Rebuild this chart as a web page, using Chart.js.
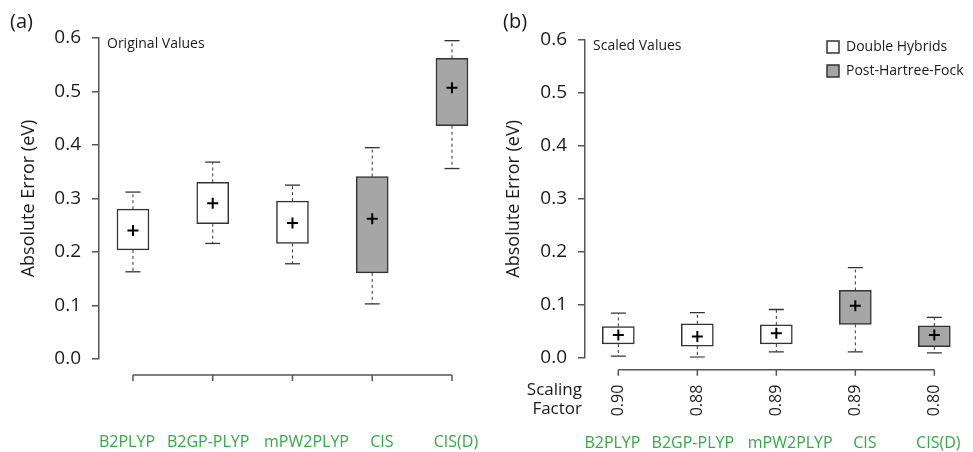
<!DOCTYPE html>
<html lang="en">
<head>
<meta charset="UTF-8">
<title>Absolute Error</title>
<script src="https://cdn.jsdelivr.net/npm/chart.js"></script>
<style>
  body { margin: 0; background: #fff; }
  .panel { position: absolute; top: 0; height: 452px; }
  #left { left: 0; width: 480px; }
  #right { left: 480px; width: 493px; }
</style>
</head>
<body>
<div class="panel" id="left"><canvas id="chartA"></canvas></div>
<div class="panel" id="right"><canvas id="chartB"></canvas></div>
<script>
const methods = ['B2PLYP', 'B2GP-PLYP', 'mPW2PLYP', 'CIS', 'CIS(D)'];
const methodGroup = ['DH', 'DH', 'DH', 'PHF', 'PHF'];
const scalingFactors = ['0.90', '0.88', '0.89', '0.89', '0.80'];
const yTicks = [0, 0.1, 0.2, 0.3, 0.4, 0.5, 0.6];

// (a) original values
const origWhiskerLow  = [0.163, 0.216, 0.178, 0.103, 0.356];
const origBoxLow      = [0.204, 0.253, 0.216, 0.161, 0.436];
const origMean        = [0.240, 0.291, 0.254, 0.262, 0.507];
const origBoxHigh     = [0.280, 0.330, 0.295, 0.341, 0.562];
const origWhiskerHigh = [0.312, 0.368, 0.325, 0.395, 0.595];

// (b) scaled values
const scaledWhiskerLow  = [0.003, 0.001, 0.011, 0.011, 0.009];
const scaledBoxLow      = [0.026, 0.022, 0.026, 0.063, 0.021];
const scaledMean        = [0.043, 0.040, 0.046, 0.098, 0.043];
const scaledBoxHigh     = [0.059, 0.064, 0.062, 0.127, 0.060];
const scaledWhiskerHigh = [0.084, 0.085, 0.091, 0.170, 0.076];

// the green method names sit slightly off their ticks in the original
const labelNudge = [-0.075, -0.057, 0.176, 0.12, 0.05];

const font = "'Open Sans', sans-serif";
const green = '#35a946';
const axisGrey = '#555';
const ink = '#1a1a1a';
const clear = 'rgba(0,0,0,0)';

function boxDatasets(lo, q1, mean, q3, hi) {
  const bars = (grp, label, fill) => ({
    type: 'bar', label: label, order: 3, xAxisID: 'x',
    data: methods.map((m, i) => methodGroup[i] === grp ? {x: i + 1, y: [q1[i], q3[i]]} : null).filter(d => d),
    backgroundColor: fill, borderColor: '#333', borderWidth: 1.5, borderSkipped: false,
    barThickness: 32, grouped: false
  });
  const whiskers = [];
  methods.forEach((m, i) => {
    whiskers.push({x: i + 1, y: q3[i]}, {x: i + 1, y: hi[i]}, {x: i + 1, y: null},
                  {x: i + 1, y: q1[i]}, {x: i + 1, y: lo[i]}, {x: i + 1, y: null});
  });
  return [
    bars('DH', 'Double Hybrids', '#ffffff'),
    bars('PHF', 'Post-Hartree-Fock', '#a6a6a6'),
    {
      type: 'line', label: 'whiskers', order: 2, xAxisID: 'x', data: whiskers,
      borderColor: '#333', borderWidth: 1, borderDash: [3, 3], pointRadius: 0, spanGaps: false, fill: false
    },
    {
      type: 'line', label: 'caps', order: 2, xAxisID: 'x', showLine: false,
      data: methods.flatMap((m, i) => [{x: i + 1, y: hi[i]}, {x: i + 1, y: lo[i]}]),
      pointStyle: 'line', pointRadius: 7.5, pointBorderColor: '#333', pointBorderWidth: 1.3
    },
    {
      type: 'line', label: 'mean', order: 1, xAxisID: 'x', showLine: false,
      data: methods.map((m, i) => ({x: i + 1, y: mean[i]})),
      pointStyle: 'cross', pointRadius: 5.5, pointBorderColor: '#000', pointBorderWidth: 2
    }
  ];
}

function noPad(s) { s.paddingLeft = 0; s.paddingRight = 0; s.paddingTop = 0; s.paddingBottom = 0; }

function yScale(axisWidth, titlePad) {
  return {
    type: 'linear', min: 0, max: 0.6,
    afterBuildTicks: s => { s.ticks = yTicks.map(v => ({value: v})); },
    ticks: { callback: v => v.toFixed(1), color: ink, font: {family: font, size: 19}, padding: 11 },
    grid: { drawOnChartArea: false, drawTicks: true, tickLength: 7, color: axisGrey, lineWidth: 1.5 },
    border: { display: true, color: axisGrey, width: 1.5 },
    title: { display: true, text: 'Absolute Error (eV)', color: ink, font: {family: font, size: 18}, padding: {top: titlePad, bottom: 0} },
    afterFit: s => { s.width = axisWidth; noPad(s); }
  };
}

// category-like linear axis; the invisible tick length pushes the labels down
function methodScale(min, max, height, drop, weight, labels, tickFont, tickColor, rotation, nudge) {
  return {
    type: 'linear', position: 'bottom', min: min, max: max, weight: weight, offset: false,
    afterBuildTicks: s => { s.ticks = methods.map((m, i) => ({value: i + 1 + (nudge ? nudge[i] : 0)})); },
    ticks: { callback: (v, i) => labels[i], color: tickColor, font: tickFont,
             padding: 0, minRotation: rotation, maxRotation: rotation, autoSkip: false },
    grid: { display: true, offset: false, drawOnChartArea: false, drawTicks: true, tickLength: drop, color: clear },
    border: { display: false },
    afterFit: s => { s.height = height; noPad(s); }
  };
}

// R-style detached x axis, panel letter and notes
function decorations(letter, letterX, note, gap, showFactor) {
  return {
    id: 'decorations',
    afterDraw(chart) {
      const {ctx, chartArea, scales} = chart;
      const x = scales.x;
      ctx.save();
      ctx.fillStyle = ink;
      ctx.textBaseline = 'middle';
      ctx.textAlign = 'left';
      ctx.font = '20px ' + font;
      ctx.fillText(letter, letterX, 22);
      ctx.font = '14px ' + font;
      ctx.fillText(note, chartArea.left + 8, chartArea.top + 6);
      const y0 = chartArea.bottom + gap;
      ctx.strokeStyle = axisGrey;
      ctx.lineWidth = 1.5;
      ctx.beginPath();
      ctx.moveTo(x.getPixelForValue(1), y0);
      ctx.lineTo(x.getPixelForValue(methods.length), y0);
      methods.forEach((m, i) => {
        const px = x.getPixelForValue(i + 1);
        ctx.moveTo(px, y0);
        ctx.lineTo(px, y0 + 6);
      });
      ctx.stroke();
      if (showFactor) {
        ctx.font = '17px ' + font;
        ctx.textAlign = 'right';
        ctx.fillText('Scaling', chartArea.left - 3, chartArea.bottom + 32);
        ctx.fillText('Factor', chartArea.left - 3, chartArea.bottom + 51);
      }
      ctx.restore();
    }
  };
}

const legendMover = {
  id: 'legendMover',
  afterLayout(chart) {
    const lg = chart.legend;
    if (!lg) return;
    const w = lg.right - lg.left;
    lg.left = 337;
    lg.right = lg.left + w;
    lg.top = 30;
  }
};

const greenFont = {family: font, size: 16};

new Chart(document.getElementById('chartA'), {
  data: { datasets: boxDatasets(origWhiskerLow, origBoxLow, origMean, origBoxHigh, origWhiskerHigh) },
  options: {
    responsive: true,
    maintainAspectRatio: false,
    animation: false,
    events: [],
    layout: { padding: {top: 38, right: 10, bottom: 0, left: 0} },
    plugins: { tooltip: { enabled: false }, legend: { display: false } },
    scales: {
      x: methodScale(0.574, 5.226, 93, 74, 1, methods, greenFont, green, 0, labelNudge),
      y: yScale(99, 18)
    }
  },
  plugins: [decorations('(a)', 10, 'Original Values', 16, false)]
});

new Chart(document.getElementById('chartB'), {
  data: { datasets: boxDatasets(scaledWhiskerLow, scaledBoxLow, scaledMean, scaledBoxHigh, scaledWhiskerHigh) },
  options: {
    responsive: true,
    maintainAspectRatio: false,
    animation: false,
    events: [],
    layout: { padding: {top: 40, right: 13, bottom: 0, left: 0} },
    plugins: {
      tooltip: { enabled: false },
      legend: {
        position: 'chartArea', align: 'start',
        labels: {
          filter: item => item.text === 'Double Hybrids' || item.text === 'Post-Hartree-Fock',
          boxWidth: 12, boxHeight: 12, padding: 10, color: ink, font: {family: font, size: 14}
        }
      }
    },
    scales: {
      x: methodScale(0.578, 5.325, 34.3, 15.7, 1, methods, greenFont, green, 0, labelNudge),
      sf: methodScale(0.578, 5.325, 60, 27, 0, scalingFactors, {family: font, size: 16}, ink, 90, null),
      y: yScale(105, 23)
    }
  },
  plugins: [decorations('(b)', 23, 'Scaled Values', 12, true), legendMover]
});
</script>
</body>
</html>
